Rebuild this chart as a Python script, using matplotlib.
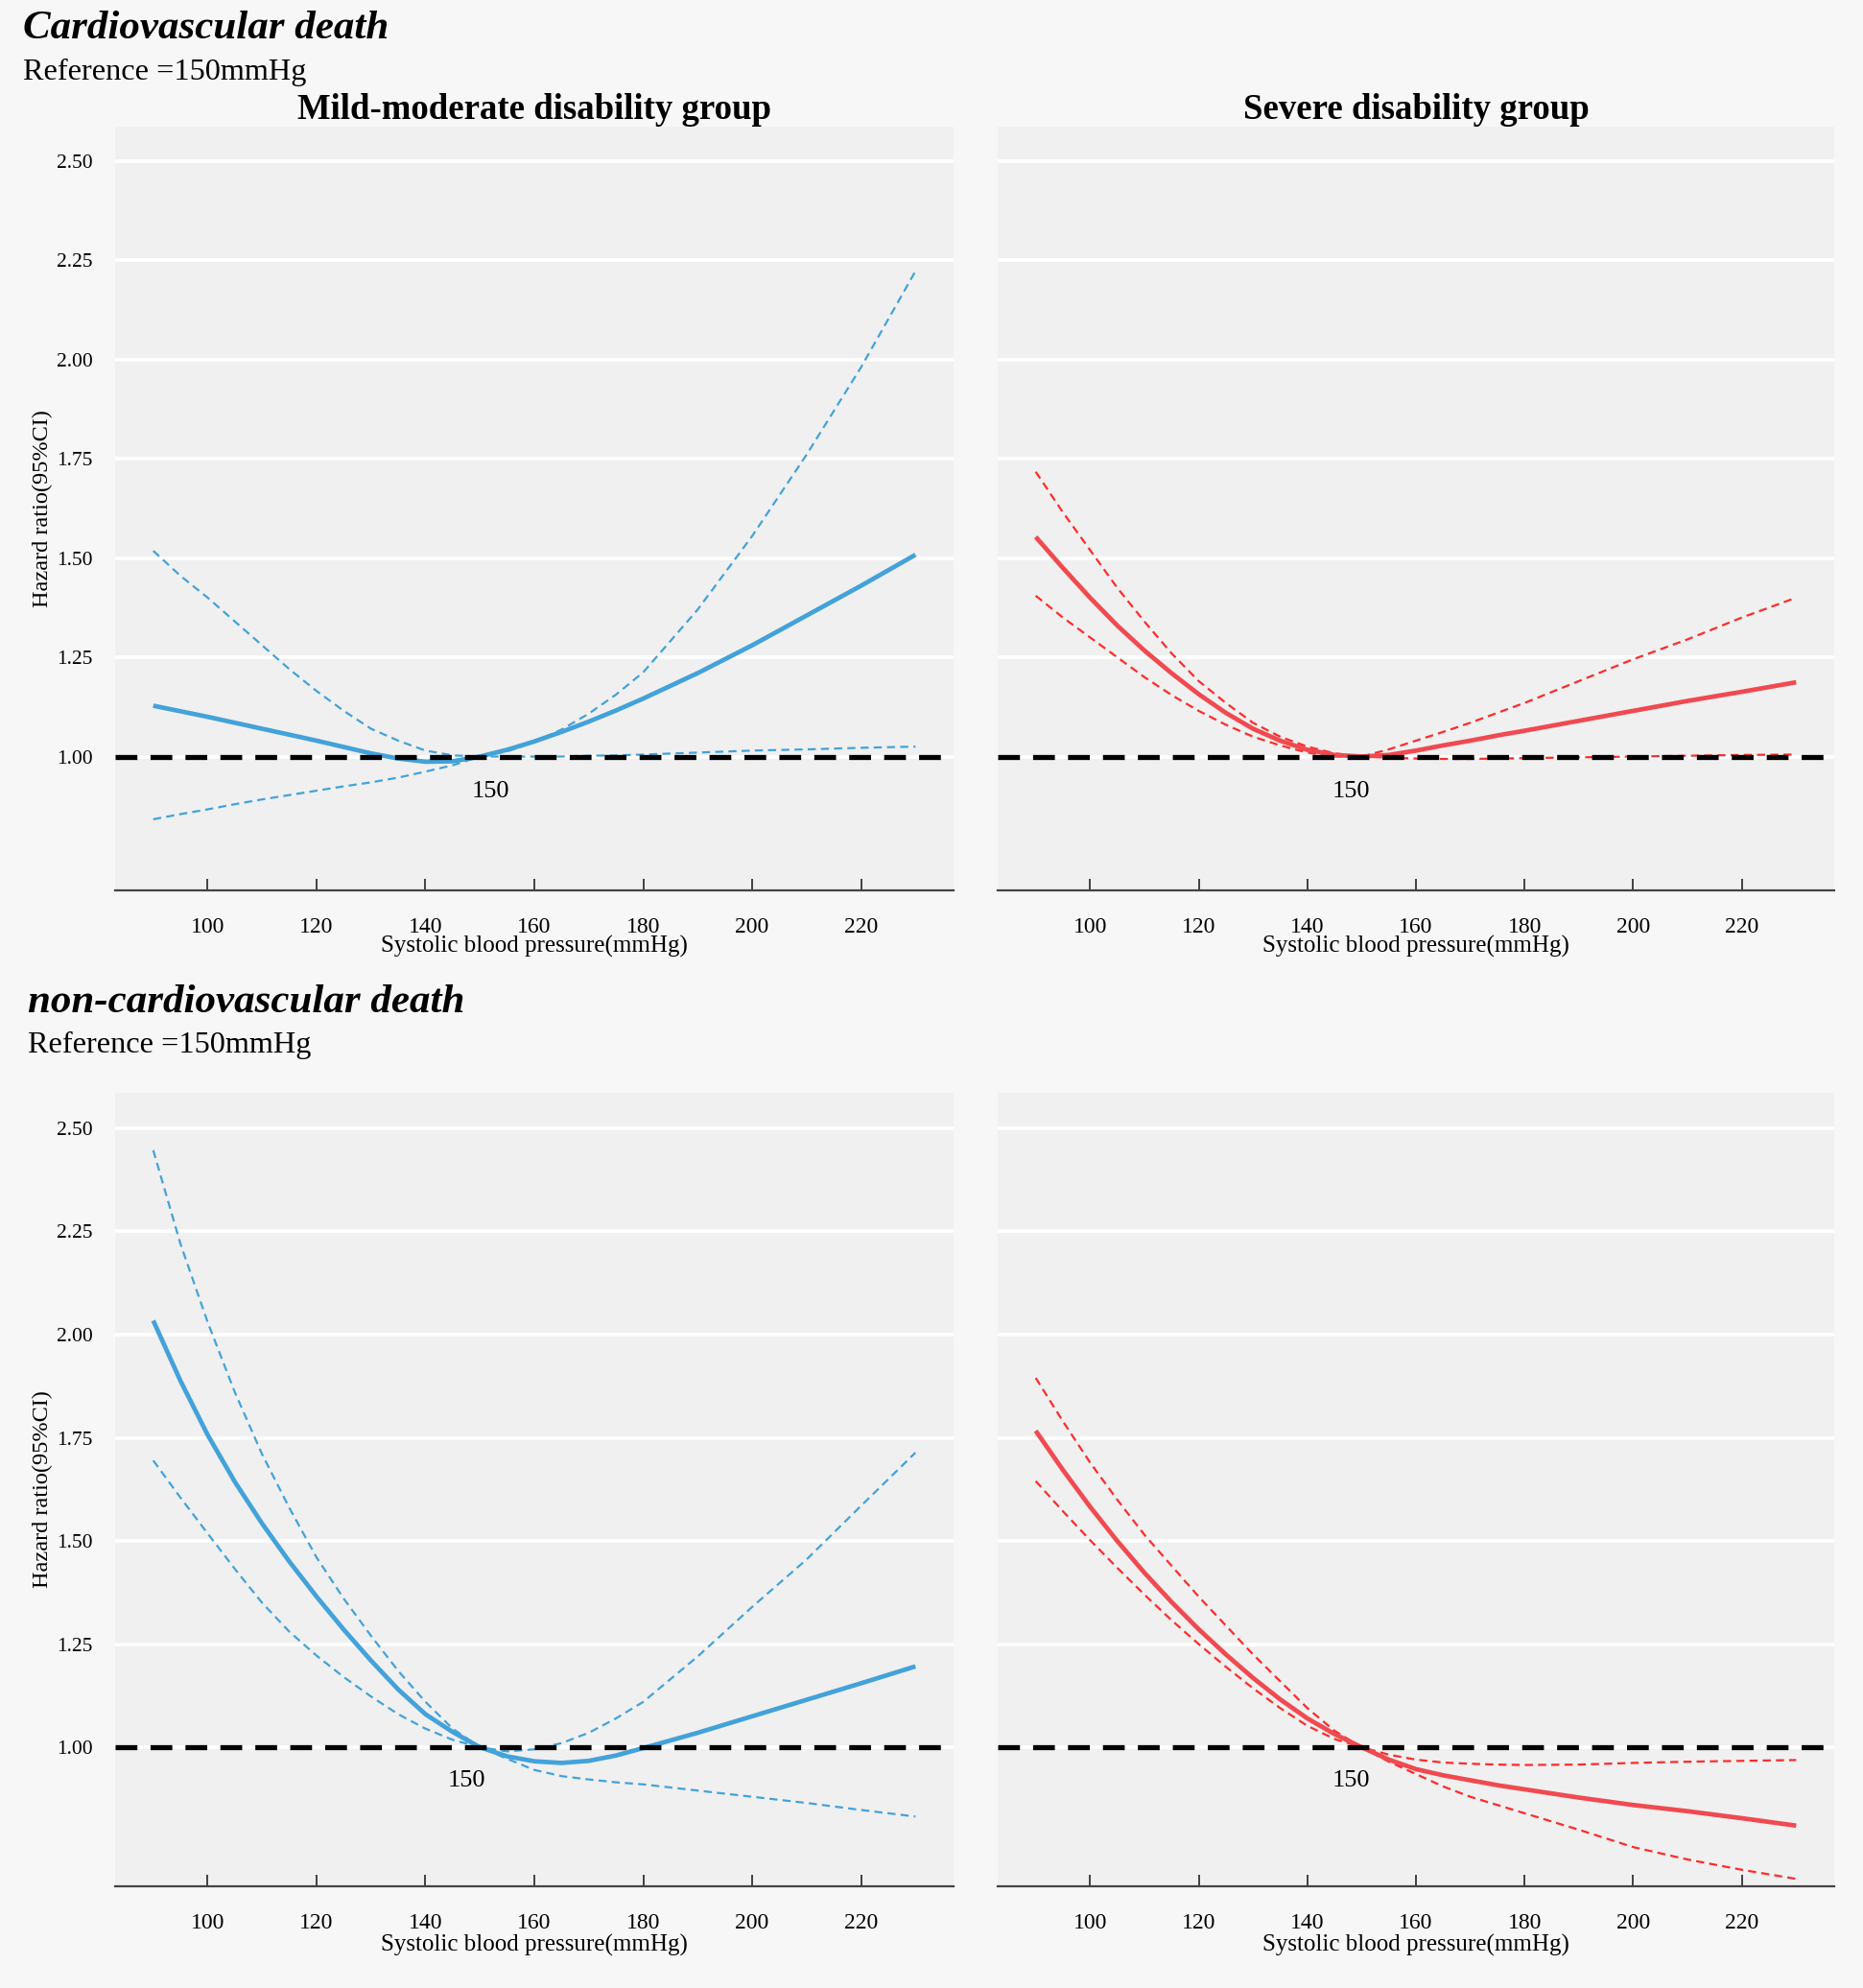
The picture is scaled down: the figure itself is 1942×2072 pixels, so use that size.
import matplotlib
matplotlib.use("Agg")
import matplotlib.pyplot as plt

plt.rcParams["font.family"] = ["Liberation Serif", "DejaVu Serif"]

# systolic blood pressure grid (mmHg)
sbp = [90, 95, 100, 105, 110, 115, 120, 125, 130, 135, 140, 145, 150,
       155, 160, 165, 170, 175, 180, 190, 200, 210, 220, 230]

# cardiovascular death, mild-moderate disability
cv_mild_hr = [1.128, 1.114, 1.100, 1.085, 1.070, 1.055, 1.040, 1.024, 1.008, 0.995, 0.987, 0.988, 1.000,
              1.017, 1.038, 1.062, 1.088, 1.116, 1.146, 1.210, 1.280, 1.355, 1.430, 1.508]
cv_mild_hi = [1.518, 1.455, 1.400, 1.340, 1.280, 1.220, 1.165, 1.115, 1.070, 1.040, 1.015, 1.003, 1.000,
              1.013, 1.036, 1.068, 1.108, 1.156, 1.212, 1.370, 1.555, 1.760, 1.980, 2.222]
cv_mild_lo = [0.842, 0.855, 0.867, 0.880, 0.892, 0.903, 0.914, 0.925, 0.935, 0.947, 0.962, 0.978, 1.000,
              1.000, 1.000, 1.000, 1.002, 1.003, 1.005, 1.010, 1.015, 1.018, 1.022, 1.025]

# cardiovascular death, severe disability
cv_sev_hr = [1.553, 1.475, 1.400, 1.330, 1.267, 1.210, 1.157, 1.110, 1.070, 1.040, 1.017, 1.004, 1.000,
             1.004, 1.015, 1.028, 1.040, 1.053, 1.065, 1.090, 1.115, 1.140, 1.163, 1.187]
cv_sev_hi = [1.717, 1.615, 1.520, 1.425, 1.340, 1.260, 1.190, 1.135, 1.085, 1.050, 1.025, 1.008, 1.000,
             1.018, 1.040, 1.062, 1.085, 1.110, 1.135, 1.190, 1.245, 1.295, 1.350, 1.400]
cv_sev_lo = [1.405, 1.350, 1.300, 1.250, 1.200, 1.155, 1.115, 1.080, 1.050, 1.028, 1.010, 1.000, 1.000,
             0.997, 0.995, 0.994, 0.994, 0.995, 0.996, 0.998, 1.000, 1.002, 1.004, 1.005]

# non-cardiovascular death, mild-moderate disability
ncv_mild_hr = [2.034, 1.888, 1.757, 1.643, 1.542, 1.450, 1.365, 1.285, 1.210, 1.140, 1.080, 1.037, 1.000,
               0.978, 0.966, 0.962, 0.967, 0.980, 0.998, 1.035, 1.075, 1.115, 1.155, 1.196]
ncv_mild_hi = [2.447, 2.220, 2.030, 1.860, 1.710, 1.580, 1.460, 1.360, 1.270, 1.185, 1.110, 1.045, 1.000,
               0.990, 0.995, 1.010, 1.035, 1.070, 1.110, 1.220, 1.340, 1.455, 1.585, 1.714]
ncv_mild_lo = [1.695, 1.605, 1.518, 1.432, 1.350, 1.280, 1.222, 1.170, 1.123, 1.080, 1.045, 1.018, 1.000,
               0.972, 0.945, 0.930, 0.922, 0.915, 0.910, 0.895, 0.880, 0.865, 0.848, 0.832]

# non-cardiovascular death, severe disability
ncv_sev_hr = [1.767, 1.672, 1.583, 1.500, 1.423, 1.352, 1.286, 1.225, 1.168, 1.116, 1.070, 1.032, 1.000,
              0.970, 0.947, 0.932, 0.920, 0.908, 0.898, 0.878, 0.860, 0.845, 0.828, 0.810]
ncv_sev_hi = [1.895, 1.790, 1.690, 1.600, 1.515, 1.440, 1.365, 1.295, 1.225, 1.160, 1.095, 1.040, 1.000,
              0.982, 0.970, 0.963, 0.960, 0.958, 0.957, 0.958, 0.962, 0.965, 0.967, 0.969]
ncv_sev_lo = [1.645, 1.572, 1.502, 1.435, 1.370, 1.308, 1.250, 1.195, 1.143, 1.095, 1.052, 1.020, 1.000,
              0.965, 0.935, 0.905, 0.880, 0.860, 0.840, 0.800, 0.758, 0.728, 0.703, 0.681]

yticks = [1.00, 1.25, 1.50, 1.75, 2.00, 2.25, 2.50]
xticks = [100, 120, 140, 160, 180, 200, 220]
ref_sbp = 150

BLUE = "#43a2da"
RED = "#f04a50"
RED_CI = "#ff2b2b"
FIG_BG = "#f7f7f7"
PANEL_BG = "#f0f0f0"

W, H = 1942, 2072
fig = plt.figure(figsize=(W / 100, H / 100), dpi=100, facecolor=FIG_BG)


def px_axes(x0, y0, x1, y1):
    return fig.add_axes([x0 / W, 1 - y1 / H, (x1 - x0) / W, (y1 - y0) / H])


def panel(ax, hr, hi, lo, line_col, ci_col, lab_xy, title=None):
    ax.set_facecolor(PANEL_BG)
    for s in ["top", "right", "left"]:
        ax.spines[s].set_visible(False)
    ax.spines["bottom"].set_color("#444444")
    ax.spines["bottom"].set_linewidth(1.6)
    ax.set_xlim(83, 237)
    ax.set_ylim(0.663, 2.586)
    ax.set_yticks(yticks)
    ax.set_yticklabels([f"{v:.2f}" for v in yticks])
    ax.set_xticks(xticks)
    ax.grid(axis="y", color="white", lw=2.6, zorder=0)
    ax.set_axisbelow(True)
    ax.tick_params(axis="y", length=0, pad=17, labelsize=15.5)
    ax.tick_params(axis="x", direction="in", length=9, width=1.3, color="#333333",
                   pad=20, labelsize=17)

    ax.plot(sbp, hi, color=ci_col, lw=1.6, ls=(0, (3.8, 2.4)), zorder=2)
    ax.plot(sbp, lo, color=ci_col, lw=1.6, ls=(0, (3.8, 2.4)), zorder=2)
    ax.plot(sbp, hr, color=line_col, lw=3.4, solid_capstyle="butt", zorder=3)
    ax.axhline(1.0, color="black", lw=3.8, dashes=(4.3, 2.6), zorder=4)

    ax.text(lab_xy[0], lab_xy[1], str(ref_sbp), ha="center", va="center", fontsize=19)

    ax.set_xlabel("Systolic blood pressure(mmHg)", fontsize=18)
    ax.xaxis.set_label_coords(0.5, -0.074)
    ax.xaxis.label.set_va("center")
    if title:
        ax.set_title(title, fontsize=26.5, fontweight="bold", pad=-2)


ax1 = px_axes(120, 132, 994, 928)
ax2 = px_axes(1040, 132, 1912, 928)
ax3 = px_axes(120, 1139, 994, 1966)
ax4 = px_axes(1040, 1139, 1912, 1966)

panel(ax1, cv_mild_hr, cv_mild_hi, cv_mild_lo, BLUE, BLUE, (152, 0.911),
      "Mild-moderate disability group")
panel(ax2, cv_sev_hr, cv_sev_hi, cv_sev_lo, RED, RED_CI, (148, 0.911),
      "Severe disability group")
panel(ax3, ncv_mild_hr, ncv_mild_hi, ncv_mild_lo, BLUE, BLUE, (147.5, 0.918))
panel(ax4, ncv_sev_hr, ncv_sev_hi, ncv_sev_lo, RED, RED_CI, (148, 0.918))

for ax in (ax1, ax3):
    ax.set_ylabel("Hazard ratio(95%CI)", fontsize=17.5)
    ax.yaxis.set_label_coords(-0.087, 0.5)
    ax.yaxis.label.set_va("center")
for ax in (ax2, ax4):
    ax.set_yticklabels([])

fig.text(24 / W, 1 - 30 / H, "Cardiovascular death", fontsize=31,
         fontweight="bold", fontstyle="italic", va="center", ha="left")
fig.text(24 / W, 1 - 75 / H, "Reference =150mmHg", fontsize=23.2, va="center", ha="left")
fig.text(29 / W, 1 - 1045 / H, "non-cardiovascular death", fontsize=31,
         fontweight="bold", fontstyle="italic", va="center", ha="left")
fig.text(29 / W, 1 - 1089 / H, "Reference =150mmHg", fontsize=23.2, va="center", ha="left")

fig.savefig("out.png", dpi=100, facecolor=FIG_BG)
